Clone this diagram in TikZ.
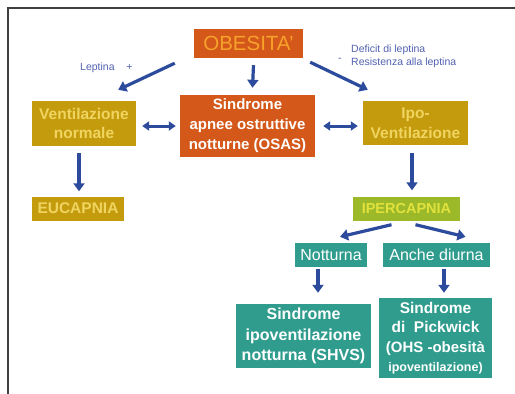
\documentclass[tikz,border=0pt]{standalone}
\usepackage{fontspec}
\setmainfont{Liberation Sans}
\usetikzlibrary{arrows.meta,calc}
\definecolor{orng}{HTML}{D4581A}
\definecolor{orngtxt}{HTML}{F6A12A}
\definecolor{gold}{HTML}{C49B0C}
\definecolor{goldtxt}{HTML}{F0D460}
\definecolor{lime}{HTML}{9CB92A}
\definecolor{limetxt}{HTML}{E2E23C}
\definecolor{teal}{HTML}{2F9C8D}
\definecolor{arrblue}{HTML}{2D4B9C}
\definecolor{lblblue}{HTML}{5262B2}
\begin{document}
\begin{tikzpicture}[x=1pt,y=-1pt,
  box/.style={inner sep=0pt,align=center,font=\bfseries},
  orbox/.style={box,fill=orng,text=white},
  gdbox/.style={box,fill=gold,text=goldtxt},
  grbox/.style={box,fill=lime,text=limetxt},
  tlbox/.style={box,fill=teal,text=white},
  arr/.style={draw=arrblue,line width=3.2pt,-{Triangle[width=11pt,length=8pt]}},
  darr/.style={draw=arrblue,line width=3pt,{Triangle[width=9pt,length=7pt]}-{Triangle[width=9pt,length=7pt]}},
  lbl/.style={text=lblblue,font=\fontsize{10.5}{12.5}\selectfont,inner sep=0pt,align=left}]
\useasboundingbox (0,0) rectangle (515,394);
\fill[white] (0,0) rectangle (515,394);
\draw[line width=1.6pt,black!75] (8,394) -- (8,8) -- (515,8);
% nodes
\node[box,fill=orng,text=orngtxt,minimum width=109pt,minimum height=29pt,font=\fontsize{20.5}{22}\selectfont] (obes) at (248.5,43.5) {OBESITA'};
\node[gdbox,minimum width=104pt,minimum height=45pt,font=\bfseries\fontsize{15.5}{19.5}\selectfont] (vn) at (84,123.5) {Ventilazione\\normale};
\node[orbox,minimum width=135pt,minimum height=62pt,font=\bfseries\fontsize{15}{20}\selectfont] (osas) at (247.5,126) {Sindrome\\apnee ostruttive\\notturne (OSAS)};
\node[gdbox,minimum width=105pt,minimum height=44pt,font=\bfseries\fontsize{15.5}{19.5}\selectfont] (ipo) at (415.5,123) {Ipo-\\Ventilazione};
\node[gdbox,minimum width=92pt,minimum height=24pt,font=\bfseries\fontsize{15.5}{18}\selectfont] (euc) at (78,208.5) {EUCAPNIA};
\node[grbox,minimum width=107pt,minimum height=24pt,font=\bfseries\fontsize{14.5}{17}\selectfont] (iper) at (406.5,208.5) {IPERCAPNIA};
\node[tlbox,minimum width=72pt,minimum height=24pt,font=\fontsize{16}{18}\selectfont] (nott) at (331,255) {Notturna};
\node[tlbox,minimum width=107pt,minimum height=24pt,font=\fontsize{16}{18}\selectfont] (anche) at (436.5,255) {Anche diurna};
\node[tlbox,minimum width=135pt,minimum height=64pt,font=\bfseries\fontsize{16}{20.5}\selectfont] (shvs) at (303.5,336) {Sindrome\\ipoventilazione\\notturna (SHVS)};
\node[tlbox,minimum width=113pt,minimum height=80pt,font=\bfseries\fontsize{15.5}{19.5}\selectfont] (pick) at (435.5,338) {Sindrome\\di\ \ Pickwick\\{\fontsize{15}{19}\selectfont (OHS -obesità}\\{\fontsize{12.5}{17}\selectfont ipoventilazione)}};
% labels
\node[lbl,anchor=west] (lep) at (80,68) {Leptina\ \ \ \ +};
\node[lbl,anchor=west] (minus) at (338,60) {-};
\node[lbl,anchor=west] (def) at (351,56.5) {Deficit di leptina\\Resistenza alla leptina};
% connectors
\draw[arr] ($(obes.south west)+(-19,5)$) -- ($(vn.north east)+(-18,-11)$);
\draw[arr] ($(obes.south)+(5,7)$) -- ($(osas.north)+(5,-7)$);
\draw[arr] ($(obes.south east)+(7,4)$) -- ($(ipo.north west)+(5,-11)$);
\draw[darr] ($(vn.east)+(6,2.5)$) -- ($(osas.west)+(-4,0)$);
\draw[darr] ($(osas.east)+(8,0)$) -- ($(ipo.west)+(-5,3)$);
\draw[arr] ($(vn.south)+(-5,7)$) -- ($(euc.north)+(1,-5)$);
\draw[arr] ($(ipo.south)+(-3.5,8)$) -- ($(iper.north)+(5.5,-6)$);
\draw[arr] ($(iper.south)+(-15,4)$) -- ($(nott.north)+(9,-6)$);
\draw[arr] ($(iper.south)+(9,4)$) -- ($(anche.north)+(29,-6)$);
\draw[arr] ($(nott.south)+(-13,1.5)$) -- ($(shvs.north)+(14.5,-11)$);
\draw[arr] ($(anche.south)+(7.5,1.5)$) -- ($(pick.north)+(8.5,-5)$);
\end{tikzpicture}
\end{document}
